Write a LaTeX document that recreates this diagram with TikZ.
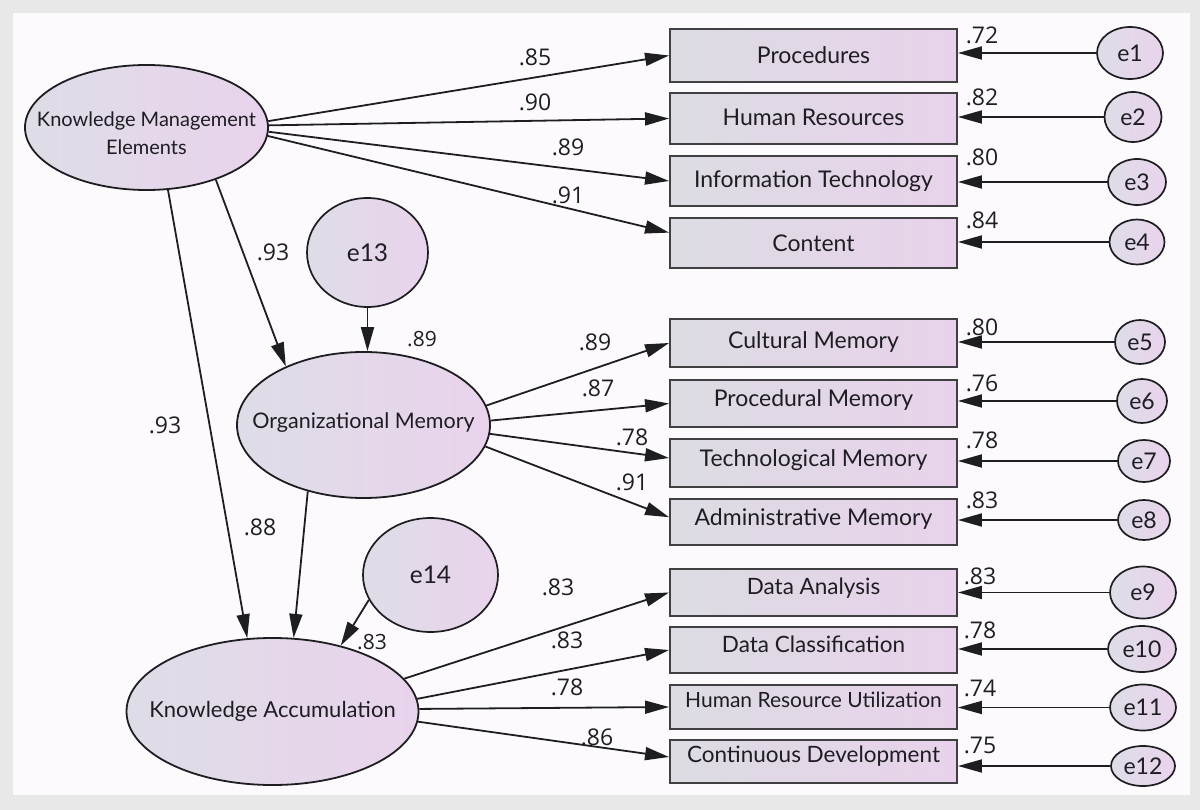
\documentclass[tikz,border=0pt]{standalone}
\usepackage{fontspec}
\setmainfont{Lato}
\newfontfamily\numfont{Open Sans}
\usetikzlibrary{shapes.geometric,arrows.meta,calc}
\definecolor{bgout}{HTML}{E8E8E8}
\definecolor{bgin}{HTML}{FCFAFC}
\definecolor{latL}{HTML}{DEDDE7}
\definecolor{latR}{HTML}{E9D3EC}
\definecolor{boxL}{HTML}{DCDCE2}
\definecolor{boxR}{HTML}{E8D2EB}
\definecolor{ink}{HTML}{1E1E22}
\begin{document}
\begin{tikzpicture}[x=1pt,y=-1pt,
  lat/.style={ellipse, draw=ink, line width=1.8pt, left color=latL, right color=latR, inner sep=0pt},
  lattxt/.style={inner sep=0pt, align=center, font=\fontsize{21.5}{28}\selectfont, text=ink},
  err/.style={ellipse, draw=ink, line width=1.7pt, left color=latL, right color=latR, inner sep=0pt, font=\fontsize{23}{26}\selectfont, text=ink},
  obs/.style={rectangle, draw=ink!85, line width=1.9pt, left color=boxL, right color=boxR, minimum width=287pt, inner sep=0pt},
  boxtxt/.style={inner sep=0pt, font=\fontsize{23}{26}\selectfont, text=ink},
  num/.style={inner sep=0pt, font=\numfont\fontsize{23}{26}\selectfont, text=ink},
  patharrow/.style={draw=ink, line width=1.8pt, -{Triangle[length=24pt,width=13pt]}}
]
\useasboundingbox (0,0) rectangle (1200,810);
\fill[bgout] (0,0) rectangle (1200,810);
\fill[bgin] (13,13) rectangle (1190,795);

% latent variables
\node[lat, minimum width=243pt, minimum height=125pt,
  label={[lattxt, font=\fontsize{20}{28}\selectfont, yshift=-5.5pt]center:Knowledge Management\\Elements}] (kme) at (146.5,127.5) {};
\node[err, minimum width=121pt, minimum height=109pt, font=\fontsize{24.5}{28}\selectfont] (e13) at (367.5,252.5) {e13};
\node[lat, minimum width=253pt, minimum height=146pt,
  label={[lattxt, yshift=2pt]center:Organizational Memory}] (om) at (363.5,425) {};
\node[err, minimum width=135pt, minimum height=114pt, font=\fontsize{24.5}{28}\selectfont] (e14) at (430.5,575) {e14};
\node[lat, minimum width=292pt, minimum height=147pt,
  label={[lattxt, font=\fontsize{22}{28}\selectfont]center:Knowledge Accumulation}] (ka) at (272.5,711.5) {};

% observed variables
\node[obs, minimum height=53pt, label={[boxtxt]center:Procedures}] (proc) at (813.5,55.5) {};
\node[obs, minimum height=51pt, label={[boxtxt,yshift=1pt]center:Human Resources}] (hr) at (813.5,118.5) {};
\node[obs, minimum height=50pt, label={[boxtxt]center:Information Technology}] (it) at (813.5,181) {};
\node[obs, minimum height=50pt, label={[boxtxt]center:Content}] (cont) at (813.5,243) {};
\node[obs, minimum height=48pt, label={[boxtxt,yshift=1pt]center:Cultural Memory}] (cm) at (813.5,343) {};
\node[obs, minimum height=47pt, label={[boxtxt,yshift=3pt]center:Procedural Memory}] (pm) at (813.5,403.5) {};
\node[obs, minimum height=48pt, label={[boxtxt,yshift=3pt]center:Technological Memory}] (tm) at (813.5,463) {};
\node[obs, minimum height=46pt, label={[boxtxt,yshift=3pt]center:Administrative Memory}] (am) at (813.5,522) {};
\node[obs, minimum height=47pt, label={[boxtxt,font=\fontsize{22.5}{26}\selectfont,yshift=4pt]center:Data Analysis}] (da) at (813.5,592.5) {};
\node[obs, minimum height=46pt, label={[boxtxt,font=\fontsize{22.5}{26}\selectfont,yshift=6pt]center:Data Classification}] (dc) at (813.5,650) {};
\node[obs, minimum height=44pt, label={[boxtxt,font=\fontsize{21}{26}\selectfont,yshift=7pt]center:Human Resource Utilization}] (hru) at (813.5,707) {};
\node[obs, minimum height=43pt, label={[boxtxt,font=\fontsize{22.5}{26}\selectfont,yshift=5pt]center:Continuous Development}] (cd) at (813.5,761.5) {};

% error terms
\node[err, minimum width=66pt, minimum height=52pt] (e1) at (1130,53) {e1};
\node[err, minimum width=57pt, minimum height=50pt] (e2) at (1133,117) {e2};
\node[err, minimum width=58pt, minimum height=46pt] (e3) at (1137,182) {e3};
\node[err, minimum width=55pt, minimum height=45pt] (e4) at (1137,242) {e4};
\node[err, minimum width=50pt, minimum height=44pt] (e5) at (1140,342) {e5};
\node[err, minimum width=50pt, minimum height=44pt] (e6) at (1142,401) {e6};
\node[err, minimum width=52pt, minimum height=42pt] (e7) at (1144,461) {e7};
\node[err, minimum width=52pt, minimum height=40pt] (e8) at (1144,520) {e8};
\node[err, minimum width=66pt, minimum height=52pt] (e9) at (1143,592.5) {e9};
\node[err, minimum width=68pt, minimum height=46pt] (e10) at (1142,649) {e10};
\node[err, minimum width=66pt, minimum height=46pt] (e11) at (1143,707.5) {e11};
\node[err, minimum width=64pt, minimum height=40pt] (e12) at (1143,766) {e12};

% error arrows
\foreach \e/\b in {e1/proc,e2/hr,e3/it,e4/cont,e5/cm,e6/pm,e7/tm,e8/am,e9/da,e10/dc,e11/hru,e12/cd}
  \draw[patharrow] (\e.west) -- (\e.west -| \b.east);

% KME paths
\draw[patharrow] (kme.3) -- (proc.west);
\draw[patharrow] (kme.1) -- (hr.west);
\draw[patharrow] (kme.-2) -- (it.west);
\draw[patharrow] (kme.-4) -- ($(cont.north west)!0.3!(cont.south west)$);
\draw[patharrow] (kme.-37) -- (om.143);
\draw[patharrow] (kme.-71) -- (ka.109);
\draw[patharrow] (e13.south) -- (e13.south |- om.north);
\draw[patharrow] (om.-130) -- (ka.74);
\draw[patharrow] (e14.202) -- (ka.44);

% OM paths
\draw[patharrow] (om.9) -- (cm.west);
\draw[patharrow] (om.2) -- (pm.west);
\draw[patharrow] (om.-4.5) -- ($(tm.north west)!0.4!(tm.south west)$);
\draw[patharrow] (om.-10.7) -- ($(am.north west)!0.4!(am.south west)$);

% KA paths
\draw[patharrow] (ka.14.6) -- (da.west);
\draw[patharrow] (ka.5.7) -- (dc.west);
\draw[patharrow] (ka.1) -- (hru.west);
\draw[patharrow] (ka.-4.5) -- ($(cd.north west)!0.4!(cd.south west)$);

% path coefficients
\node[num] (c1) at (535,57) {.85};
\node[num] (c2) at (535,102) {.90};
\node[num] (c3) at (568,147) {.89};
\node[num] (c4) at (568,195) {.91};
\node[num] (c5) at (273,252) {.93};
\node[num] (c6) at (165,425) {.93};
\node[num, font=\numfont\fontsize{21}{24}\selectfont] (c7) at (422,339) {.89};
\node[num] (c8) at (260,527) {.88};
\node[num, font=\numfont\fontsize{21}{24}\selectfont] (c9) at (372,642) {.83};
\node[num] (c10) at (595,342) {.89};
\node[num] (c11) at (598,388) {.87};
\node[num] (c12) at (632,437) {.78};
\node[num] (c13) at (632,482) {.91};
\node[num] (c14) at (558,587) {.83};
\node[num] (c15) at (567,640) {.83};
\node[num] (c16) at (567,687) {.78};
\node[num] (c17) at (597,737) {.86};

% squared multiple correlations
\node[num] (r1) at (982,35) {.72};
\node[num] (r2) at (982,97) {.82};
\node[num] (r3) at (982,157) {.80};
\node[num] (r4) at (982,220) {.84};
\node[num] (r5) at (982,327) {.80};
\node[num] (r6) at (982,383) {.76};
\node[num] (r7) at (982,440) {.78};
\node[num] (r8) at (982,500) {.83};
\node[num] (r9) at (980,576) {.83};
\node[num] (r10) at (980,630) {.78};
\node[num] (r11) at (980,688) {.74};
\node[num] (r12) at (980,745) {.75};
\end{tikzpicture}
\end{document}
